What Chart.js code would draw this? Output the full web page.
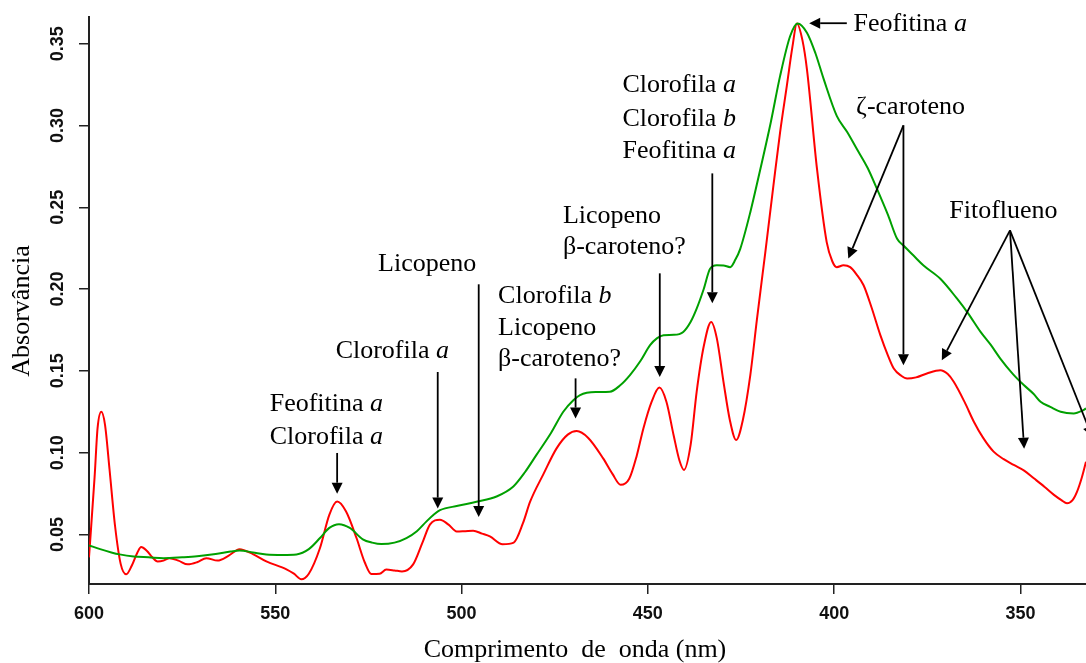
<!DOCTYPE html>
<html>
<head>
<meta charset="utf-8">
<script src="https://cdn.jsdelivr.net/npm/chart.js@4.4.0/dist/chart.umd.min.js"></script>
<style>
  html, body { margin: 0; padding: 0; background: #fff; }
  #wrap { width: 1086px; height: 663px; }
</style>
</head>
<body>
<div id="wrap"><canvas id="espectro" width="1086" height="663"></canvas></div>
<script>
// Espectro vermelho (nm / absorvância)
const redNm = [600, 598.5, 597.7, 596.7, 595.7, 594.5, 593, 591.5, 590, 588.5, 587, 586, 584.5, 583, 581.6,
  580, 578.4, 576, 573.5, 571, 568.5, 565.5, 562.5, 559.6, 556, 552.4, 547, 545, 543, 541, 538, 535.5,
  533.4, 531, 528.2, 526, 524.2, 522, 520.2, 518, 516, 513, 510.5, 508.5, 505.8, 503.5, 501.3, 499,
  496.9, 494.5, 492.4, 489, 486, 483.5, 481.6, 478, 474.5, 471.5, 469.1, 466, 462, 459.5, 457.3, 455,
  453, 451.2, 449, 446.9, 445, 443.1, 441.5, 440.3, 438.5, 436.9, 435, 433, 431.5, 429.7, 428, 426.3,
  424.5, 422.5, 420.7, 418.5, 416.3, 414.5, 412.7, 411.2, 410, 408.5, 407.3, 404.6, 402, 400.5, 399.3,
  397.5, 395.7, 394, 392.1, 390, 387.6, 385.5, 384, 382, 380.4, 378, 375.1, 371.5, 369.5, 367.9, 365,
  362.5, 360, 357.2, 354.5, 351.8, 349, 346.4, 343.5, 341, 339, 337.5, 336, 334.8, 333.5, 332.4];
const redAbs = [0.036, 0.085, 0.115, 0.125, 0.117, 0.09, 0.055, 0.032, 0.0256, 0.031, 0.039, 0.0423, 0.040,
  0.036, 0.0335, 0.034, 0.0355, 0.034, 0.0317, 0.033, 0.0355, 0.034, 0.037, 0.041, 0.038, 0.0335, 0.0287,
  0.026, 0.0226, 0.026, 0.0417, 0.062, 0.0701, 0.064, 0.0478, 0.033, 0.0258, 0.026, 0.0285, 0.028, 0.0274,
  0.0317, 0.045, 0.056, 0.059, 0.056, 0.0518, 0.052, 0.0522, 0.0505, 0.0488, 0.044, 0.045, 0.057, 0.070,
  0.087, 0.1026, 0.111, 0.1132, 0.109, 0.0965, 0.087, 0.0803, 0.084, 0.098, 0.1148, 0.131, 0.1398, 0.131,
  0.1108, 0.095, 0.0894, 0.105, 0.1372, 0.165, 0.1799, 0.170, 0.1433, 0.120, 0.1077, 0.120, 0.1474,
  0.1819, 0.222, 0.2632, 0.296, 0.3242, 0.348, 0.3624, 0.352, 0.3343, 0.2734, 0.2287, 0.217, 0.2134,
  0.2145, 0.2134, 0.209, 0.2023, 0.189, 0.1718, 0.159, 0.1514, 0.147, 0.1453, 0.146, 0.1484, 0.1504,
  0.148, 0.1433, 0.131, 0.1189, 0.109, 0.1006, 0.096, 0.0925, 0.089, 0.0843, 0.079, 0.0742, 0.071,
  0.0691, 0.071, 0.0762, 0.085, 0.0945];

// Espectro verde
const greenNm = [600, 597, 594, 591.8, 588, 584, 580, 575, 571, 566, 562, 559.6, 556, 552.4, 548, 544.3,
  541, 538, 535.5, 532.9, 530, 526.5, 524, 521.5, 518, 514.8, 512, 509.4, 507.5, 505.8, 501, 496, 490.6,
  486.1, 483, 479.9, 476, 472.7, 470, 468.2, 464, 460.2, 457.5, 454.8, 452, 449.4, 447.5, 445.8, 443,
  440.5, 438.5, 436.9, 435, 433.3, 431.5, 429.7, 427.9, 426.5, 425.2, 422.5, 419.8, 417, 414.5, 411.8,
  409.8, 407.3, 405, 402.8, 399.3, 396.5, 393.9, 391, 388.5, 385.5, 383.1, 381.4, 378.5, 376, 371.5,
  367, 364, 360.7, 358, 355.4, 352, 349.1, 346.5, 344.6, 342, 339.2, 335.7, 333.5, 332.4];
const greenAbs = [0.0433, 0.041, 0.039, 0.0378, 0.0365, 0.036, 0.0355, 0.036, 0.0366, 0.038, 0.0395,
  0.0402, 0.039, 0.0378, 0.0375, 0.0378, 0.041, 0.0478, 0.054, 0.0563, 0.054, 0.047, 0.045, 0.0441,
  0.045, 0.0478, 0.052, 0.058, 0.062, 0.0648, 0.0675, 0.070, 0.0732, 0.0793, 0.088, 0.0986, 0.112,
  0.125, 0.132, 0.1352, 0.137, 0.1372, 0.141, 0.1474, 0.156, 0.1657, 0.170, 0.1718, 0.172, 0.1738,
  0.180, 0.188, 0.200, 0.2124, 0.2145, 0.2144, 0.2134, 0.218, 0.2246, 0.247, 0.2734, 0.302, 0.3303,
  0.3547, 0.3624, 0.3567, 0.344, 0.3283, 0.3059, 0.296, 0.2856, 0.274, 0.2612, 0.245, 0.2307, 0.2266,
  0.220, 0.2144, 0.2063, 0.1941, 0.185, 0.1738, 0.166, 0.1575, 0.148, 0.1413, 0.136, 0.1311, 0.128,
  0.125, 0.124, 0.1255, 0.127];

const xTicks = [600, 550, 500, 450, 400, 350];
const yTicks = [0.05, 0.10, 0.15, 0.20, 0.25, 0.30, 0.35];

// Rótulos das bandas: x em nm, y em absorvância (uma por linha); *a* = itálico
const bandLabels = [
  { x: 551.5, y: [0.1295, 0.1094], text: ['Feofitina *a*', 'Clorofila *a*'] },
  { x: 533.8, y: [0.1619], text: ['Clorofila *a*'] },
  { x: 522.4, y: [0.2155], text: ['Licopeno'] },
  { x: 490.2, y: [0.1957, 0.1762, 0.157], text: ['Clorofila *b*', 'Licopeno', 'β-caroteno?'] },
  { x: 472.8, y: [0.2444, 0.2257], text: ['Licopeno', 'β-caroteno?'] },
  { x: 456.8, y: [0.3245, 0.3037, 0.2842], text: ['Clorofila *a*', 'Clorofila *b*', 'Feofitina *a*'] },
  { x: 394.8, y: [0.3618], text: ['Feofitina *a*'] },
  { x: 394.1, y: [0.3109], text: ['ζ-caroteno'] },
  { x: 369.1, y: [0.2477], text: ['Fitoflueno'] }
];

// Setas: [nm início, abs início, nm ponta, abs ponta]
const bandArrows = [
  [533.4, 0.0998, 533.4, 0.0749],
  [506.4, 0.1493, 506.4, 0.0658],
  [495.4, 0.2029, 495.4, 0.0606],
  [469.4, 0.1454, 469.4, 0.1208],
  [446.8, 0.2096, 446.8, 0.1462],
  [432.7, 0.2707, 432.7, 0.1913],
  [396.6, 0.3625, 406.7, 0.3625],
  [381.4, 0.3001, 396.2, 0.2186],
  [381.4, 0.3001, 381.4, 0.1534],
  [352.8, 0.2359, 371.1, 0.1564],
  [352.8, 0.2359, 349.0, 0.1024],
  [352.8, 0.2359, 330.7, 0.1094]
];

const serif = '"Liberation Serif", "Times New Roman", serif';

function drawRich(ctx, str, x, y) {
  let cx = x;
  str.split('*').forEach((part, i) => {
    if (!part) return;
    ctx.font = (i % 2 ? 'italic ' : '') + '26px ' + serif;
    ctx.fillText(part, cx, y);
    cx += ctx.measureText(part).width;
  });
}

function drawArrow(ctx, x1, y1, x2, y2) {
  const ang = Math.atan2(y2 - y1, x2 - x1);
  const len = 11, half = 5.5;
  const bx = x2 - len * Math.cos(ang), by = y2 - len * Math.sin(ang);
  ctx.beginPath();
  ctx.moveTo(x1, y1);
  ctx.lineTo(bx, by);
  ctx.stroke();
  ctx.beginPath();
  ctx.moveTo(x2, y2);
  ctx.lineTo(bx + half * Math.sin(ang), by - half * Math.cos(ang));
  ctx.lineTo(bx - half * Math.sin(ang), by + half * Math.cos(ang));
  ctx.closePath();
  ctx.fill();
}

const notas = {
  id: 'notas',
  afterDatasetsDraw(chart) {
    const { ctx, scales: { x, y } } = chart;
    ctx.save();
    ctx.fillStyle = '#000';
    ctx.strokeStyle = '#000';
    ctx.lineWidth = 1.8;
    bandArrows.forEach(a => drawArrow(ctx,
      x.getPixelForValue(a[0]), y.getPixelForValue(a[1]),
      x.getPixelForValue(a[2]), y.getPixelForValue(a[3])));

    ctx.textBaseline = 'middle';
    ctx.textAlign = 'left';
    bandLabels.forEach(l => l.text.forEach((t, i) =>
      drawRich(ctx, t, x.getPixelForValue(l.x), y.getPixelForValue(l.y[i]))));

    // títulos dos eixos
    ctx.font = '26px ' + serif;
    ctx.textAlign = 'center';
    ctx.fillText('Comprimento  de  onda (nm)', 575, 650);
    ctx.translate(22, 311);
    ctx.rotate(-Math.PI / 2);
    ctx.fillText('Absorvância', 0, 0);
    ctx.restore();
  }
};

const axisGrid = { drawOnChartArea: false, drawTicks: true, tickLength: 10, color: '#222', lineWidth: 1.5 };
const axisBorder = { display: true, color: '#222', width: 2 };
const tickFont = { family: '"Liberation Sans", Arial, sans-serif', size: 18, weight: 'bold' };

new Chart(document.getElementById('espectro'), {
  type: 'line',
  data: {
    datasets: [
      {
        label: 'verde',
        data: greenNm.map((nm, i) => ({ x: nm, y: greenAbs[i] })),
        borderColor: '#00a000',
        borderWidth: 2,
        pointRadius: 0,
        cubicInterpolationMode: 'monotone'
      },
      {
        label: 'vermelho',
        data: redNm.map((nm, i) => ({ x: nm, y: redAbs[i] })),
        borderColor: '#ff0000',
        borderWidth: 2,
        pointRadius: 0,
        cubicInterpolationMode: 'monotone'
      }
    ]
  },
  options: {
    responsive: false,
    animation: false,
    events: [],
    layout: { padding: { top: 17, right: 0, left: 0, bottom: 0 } },
    plugins: { legend: { display: false }, tooltip: { enabled: false } },
    scales: {
      x: {
        type: 'linear',
        reverse: true,
        min: 332.4,
        max: 600,
        afterBuildTicks: s => { s.ticks = xTicks.map(v => ({ value: v })); },
        afterFit: s => { s.height = 79; },
        grid: axisGrid,
        border: axisBorder,
        ticks: { color: '#111', font: tickFont, padding: 9, maxRotation: 0, autoSkip: false,
          callback: v => String(v) }
      },
      y: {
        type: 'linear',
        min: 0.0197,
        max: 0.3663,
        afterBuildTicks: s => { s.ticks = yTicks.map(v => ({ value: v })); },
        afterFit: s => { s.width = 89; },
        grid: axisGrid,
        border: axisBorder,
        ticks: { color: '#111', font: tickFont, padding: 3, minRotation: 90, maxRotation: 90,
          crossAlign: 'center', autoSkip: false, callback: v => v.toFixed(2) }
      }
    }
  },
  plugins: [notas]
});
</script>
</body>
</html>
